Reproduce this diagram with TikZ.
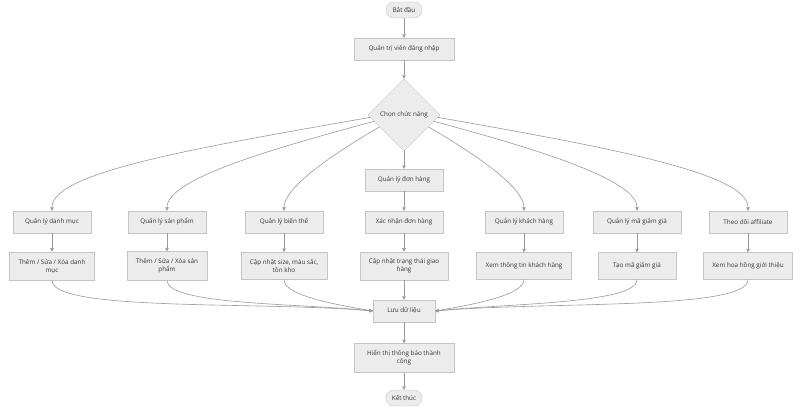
\documentclass[tikz,border=0pt]{standalone}
\usepackage{fontspec}
\setmainfont{Open Sans}
\usepackage{tikz}
\usetikzlibrary{shapes.geometric, arrows.meta, positioning, calc}

\definecolor{boxfill}{HTML}{ECECEC}
\definecolor{boxline}{HTML}{C4C4C4}
\definecolor{flowline}{HTML}{999999}
\definecolor{boxtext}{HTML}{333333}

\begin{document}
\begin{tikzpicture}[
    x=1pt, y=-1pt,
    box/.style={rectangle, draw=boxline, fill=boxfill, text=boxtext, font=\fontsize{6.3}{8}\selectfont, minimum width=78pt, minimum height=22pt, inner xsep=9pt, inner ysep=7pt, align=center},
    tallbox/.style={box, minimum height=27pt},
    terminal/.style={rectangle, rounded corners=8pt, draw=boxline, fill=boxfill, text=boxtext, font=\fontsize{6.3}{8}\selectfont, minimum width=36pt, minimum height=16pt, inner xsep=6pt},
    decision/.style={diamond, draw=boxline, fill=boxfill, text=boxtext, font=\fontsize{6.3}{8}\selectfont, minimum width=72pt, minimum height=72pt, inner sep=0pt},
    arrow/.style={draw=flowline, line width=0.6pt, -{Triangle[length=3.5pt, width=3.5pt]}}
]

\useasboundingbox (0,0) rectangle (800,410);

% ===== MAIN COLUMN =====
\node[terminal] (start) at (404, 10) {Bắt đầu};
\node[box, minimum width=100pt] (login) at (404, 49) {Quản trị viên đăng nhập};
\node[decision] (choose) at (404, 115) {Chọn chức năng};
\node[box] (orders) at (404, 180) {Quản lý đơn hàng};

% ===== FUNCTIONS =====
\node[box] (category) at (52, 222) {Quản lý danh mục};
\node[box] (product) at (167, 222) {Quản lý sản phẩm};
\node[box] (variant) at (284, 222) {Quản lý biến thể};
\node[box] (confirm) at (404, 222) {Xác nhận đơn hàng};
\node[box] (customer) at (524, 222) {Quản lý khách hàng};
\node[box, minimum width=88pt] (coupon) at (637, 222) {Quản lý mã giảm giá};
\node[box] (affiliate) at (748, 222) {Theo dõi affiliate};

% ===== ACTIONS =====
\node[tallbox] (editcat) at (52, 266) {Thêm / Sửa / Xóa danh\\mục};
\node[tallbox] (editprod) at (167, 266) {Thêm / Sửa / Xóa sản\\phẩm};
\node[tallbox] (stock) at (284, 266) {Cập nhật size, màu sắc,\\tồn kho};
\node[tallbox] (shipping) at (404, 266) {Cập nhật trạng thái giao\\hàng};
\node[tallbox] (custinfo) at (524, 266) {Xem thông tin khách hàng};
\node[tallbox] (newcoupon) at (637, 266) {Tạo mã giảm giá};
\node[tallbox] (commission) at (748, 266) {Xem hoa hồng giới thiệu};

% ===== END =====
\node[box, minimum width=62pt] (save) at (404, 311) {Lưu dữ liệu};
\node[box, minimum width=100pt] (notify) at (404, 358) {Hiển thị thông báo thành\\công};
\node[terminal] (finish) at (404, 398) {Kết thúc};

% ===== CONNECTIONS - main =====
\draw[arrow] (start) -- (login);
\draw[arrow] (login) -- (choose);
\draw[arrow] (choose) -- (orders);
\draw[arrow] (orders) -- (confirm);

% ===== CONNECTIONS - choose =====
\draw[arrow] (choose.184) to[out=190, in=90, out looseness=1.35, in looseness=0.3] (category.north);
\draw[arrow] (choose.192) to[out=195, in=90, out looseness=1.3, in looseness=0.35] (product.north);
\draw[arrow] (choose.206) to[out=210, in=90, out looseness=1.2, in looseness=0.45] (variant.north);
\draw[arrow] (choose.-26) to[out=-30, in=90, out looseness=1.2, in looseness=0.45] (customer.north);
\draw[arrow] (choose.-12) to[out=-15, in=90, out looseness=1.3, in looseness=0.35] (coupon.north);
\draw[arrow] (choose.-4) to[out=-10, in=90, out looseness=1.35, in looseness=0.3] (affiliate.north);

% ===== CONNECTIONS - actions =====
\draw[arrow] (category) -- (editcat);
\draw[arrow] (product) -- (editprod);
\draw[arrow] (variant) -- (stock);
\draw[arrow] (confirm) -- (shipping);
\draw[arrow] (customer) -- (custinfo);
\draw[arrow] (coupon) -- (newcoupon);
\draw[arrow] (affiliate) -- (commission);

% ===== CONNECTIONS - save =====
\draw[arrow] (editcat.south) to[out=-90, in=175, out looseness=0.25, in looseness=0.9] (save.west);
\draw[arrow] (editprod.south) to[out=-90, in=174, out looseness=0.3, in looseness=0.9] (save.west);
\draw[arrow] (stock.south) to[out=-90, in=170, out looseness=0.45, in looseness=0.8] (save.west);
\draw[arrow] (shipping) -- (save);
\draw[arrow] (custinfo.south) to[out=-90, in=10, out looseness=0.45, in looseness=0.8] (save.east);
\draw[arrow] (newcoupon.south) to[out=-90, in=6, out looseness=0.3, in looseness=0.9] (save.east);
\draw[arrow] (commission.south) to[out=-90, in=5, out looseness=0.25, in looseness=0.9] (save.east);
\draw[arrow] (save) -- (notify);
\draw[arrow] (notify) -- (finish);

\end{tikzpicture}
\end{document}
